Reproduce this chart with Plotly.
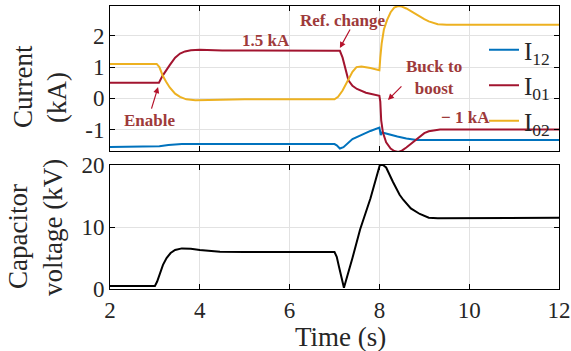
import plotly.graph_objects as go

# ---- data ----
t_i12 = [2, 3.0, 3.1, 3.3, 3.5, 3.6, 7.0, 7.05, 7.12, 7.2, 7.4, 7.6, 7.8, 8.0, 8.03, 8.06, 8.2, 8.4, 8.6, 8.83, 9.5, 12]
i12 = [-1.55, -1.55, -1.53, -1.49, -1.47, -1.46, -1.46, -1.5, -1.6, -1.56, -1.3, -1.16, -1.04, -0.93, -1.17, -1.09, -1.15, -1.22, -1.28, -1.33, -1.33, -1.33]

t_i01 = [2, 3.09, 3.17, 3.25, 3.33, 3.45, 3.56, 3.67, 3.8, 4.0, 4.5, 7.0, 7.12, 7.18, 7.25, 7.31, 7.4, 7.5, 7.7, 7.9, 8.0,
         8.02, 8.04, 8.08, 8.15, 8.25, 8.33, 8.42, 8.5, 8.6, 8.7, 8.8, 8.9, 9.0, 9.1, 9.2, 9.35, 12]
i01 = [0.5, 0.5, 0.72, 0.9, 1.06, 1.3, 1.43, 1.5, 1.54, 1.55, 1.53, 1.52, 1.52, 1.3, 0.9, 0.58, 0.4, 0.3, 0.18, 0.1, 0.08,
       -0.1, -0.7, -1.1, -1.4, -1.6, -1.68, -1.71, -1.67, -1.57, -1.45, -1.32, -1.2, -1.11, -1.05, -1.02, -0.99, -0.99]

t_i02 = [2, 3.04, 3.1, 3.17, 3.25, 3.33, 3.45, 3.56, 3.7, 3.9, 4.2, 5.0, 7.0, 7.08, 7.18, 7.31, 7.4, 7.49, 7.6, 7.8, 8.0,
         8.02, 8.05, 8.1, 8.17, 8.25, 8.33, 8.42, 8.5, 8.6, 8.7, 8.8, 8.9, 9.0, 9.1, 9.2, 9.3, 9.5, 12]
i02 = [1.1, 1.1, 1.0, 0.74, 0.53, 0.35, 0.15, 0.05, -0.03, -0.06, -0.05, -0.03, -0.03, 0.05, 0.25, 0.58, 0.85, 1.0, 1.02, 0.97, 0.9,
       1.3, 1.75, 2.2, 2.5, 2.75, 2.9, 2.95, 2.93, 2.87, 2.78, 2.7, 2.61, 2.53, 2.46, 2.41, 2.37, 2.35, 2.35]

t_vc = [2, 3.0, 3.05, 3.11, 3.18, 3.26, 3.35, 3.45, 3.6, 3.8, 4.0, 4.45, 5.0, 7.0, 7.05, 7.1, 7.15, 7.21,
        7.4, 7.57, 7.8, 8.01, 8.08, 8.15, 8.3, 8.45, 8.53, 8.7, 8.9, 9.1, 9.3, 12]
vc = [0.5, 0.5, 1.2, 2.5, 3.9, 5.0, 5.8, 6.3, 6.55, 6.5, 6.3, 6.0, 5.95, 5.95, 5.2, 3.6, 1.8, 0.2,
      5.0, 9.6, 14.6, 20.0, 20.0, 19.6, 17.3, 15.2, 14.4, 13.0, 12.1, 11.5, 11.4, 11.5]

x_ticks = [2, 4, 6, 8, 10, 12]
y1_ticks = [-1, 0, 1, 2]
y1_labels = ['-1', '0', '1', '2']
y2_ticks = [0, 10, 20]

FONT = 'Liberation Serif'
ANN = '#9E3A3A'
ARR = '#B5122B'
TXT = '#262626'
W, H = 571, 351
ML, MR, MT, MB = 110, 12, 6, 62
PW, PH = W - ML - MR, H - MT - MB


def px(x):
    return (x - ML) / PW


def py(y):
    return (H - MB - y) / PH


fig = go.Figure()
fig.add_trace(go.Scatter(x=t_i12, y=i12, mode='lines', name='I<sub>12</sub>',
                         line=dict(color='#0072BD', width=2), xaxis='x', yaxis='y'))
fig.add_trace(go.Scatter(x=t_i01, y=i01, mode='lines', name='I<sub>01</sub>',
                         line=dict(color='#A2142F', width=2), xaxis='x', yaxis='y'))
fig.add_trace(go.Scatter(x=t_i02, y=i02, mode='lines', name='I<sub>02</sub>',
                         line=dict(color='#EDB120', width=2), xaxis='x', yaxis='y'))
fig.add_trace(go.Scatter(x=t_vc, y=vc, mode='lines', showlegend=False,
                         line=dict(color='black', width=2), xaxis='x2', yaxis='y2'))

common_ax = dict(showline=True, linecolor='black', linewidth=1, mirror='ticks', ticks='inside',
                 ticklen=5, tickcolor='black', showgrid=True, gridcolor='#E2E2E2', gridwidth=1,
                 zeroline=False, automargin=False, tickfont=dict(family=FONT, size=23, color=TXT))

fig.update_layout(
    width=W, height=H, margin=dict(l=ML, r=MR, t=MT, b=MB, autoexpand=False),
    paper_bgcolor='white', plot_bgcolor='white',
    font=dict(family=FONT, color=TXT),
    xaxis=dict(domain=[0, 1], range=[2, 12], tickvals=x_ticks, showticklabels=False, anchor='y', **common_ax),
    yaxis=dict(domain=[py(151), py(6)], range=[-1.68, 2.95], tickvals=y1_ticks,
               ticktext=y1_labels, anchor='x', **common_ax),
    xaxis2=dict(domain=[0, 1], range=[2, 12], tickvals=x_ticks, anchor='y2', **common_ax),
    yaxis2=dict(domain=[py(289), py(165)], range=[0, 20], tickvals=y2_ticks, anchor='x2', **common_ax),
    legend=dict(x=px(484), y=py(27), xanchor='left', yanchor='top', bgcolor='rgba(0,0,0,0)',
                font=dict(family=FONT, size=25, color=TXT), tracegroupgap=0),
    showlegend=True,
)

annots = []
# axis titles (each line placed as in the reference)
titles = [('Current', 23, 87, -90), ('(kA)', 57, 98, -90),
          ('Capacitor', 18, 237, -90), ('voltage (kV)', 53, 228, -90),
          ('Time (s)', 340, 337, 0)]
for txt, x, y, ang in titles:
    annots.append(dict(text=txt, x=px(x), y=py(y), xref='paper', yref='paper',
                       xanchor='center', yanchor='middle', textangle=ang,
                       showarrow=False, font=dict(family=FONT, size=27, color=TXT)))
# labels
labels = [('Enable', 2.87, -0.69), ('1.5 kA', 5.47, 1.86), ('Ref. change', 7.17, 2.5),
          ('Buck to<br>boost', 9.22, 0.68), ('\u2212 1 kA', 9.91, -0.6)]
for txt, x, y in labels:
    annots.append(dict(text='<b>' + txt + '</b>', x=x, y=y, xref='x', yref='y', showarrow=False,
                       xanchor='center', yanchor='middle',
                       font=dict(family=FONT, size=17, color=ANN)))
# arrows
arrows = [(3.07, 0.36, -7, 23), (7.12, 1.61, 11, -20), (8.19, -0.05, 15, -15)]
for x, y, ax, ay in arrows:
    annots.append(dict(text='', x=x, y=y, xref='x', yref='y', ax=ax, ay=ay, showarrow=True,
                       arrowhead=2, arrowsize=1, arrowwidth=1.2, arrowcolor=ARR, standoff=0))
fig.update_layout(annotations=annots)

fig.write_html('out.html')
